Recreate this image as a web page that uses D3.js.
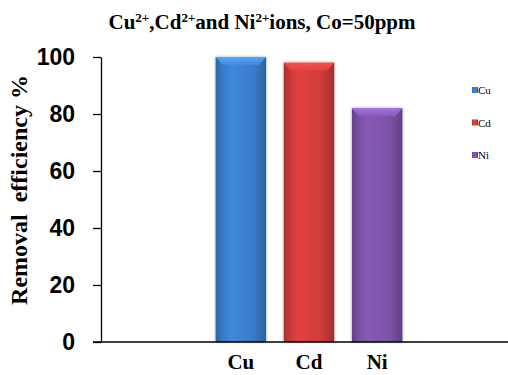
<!DOCTYPE html>
<html>
<head>
<meta charset="utf-8">
<script src="https://cdn.jsdelivr.net/npm/d3@7"></script>
<style>
  body { margin: 0; background: #fff; }
  svg { display: block; }
</style>
</head>
<body>
<div id="chart"></div>
<script>
'use strict';

const metals = ['Cu', 'Cd', 'Ni'];
const efficiency = [100, 98, 82];
const yTicks = [0, 20, 40, 60, 80, 100];
const barColors = ['#3a7cc9', '#cf3b3b', '#7b52a6'];

const width = 508, height = 375;
const margin = { top: 57, left: 101, bottom: 33, right: 0 };
const plotHeight = height - margin.top - margin.bottom;

const svg = d3.select('#chart').append('svg')
  .attr('width', width)
  .attr('height', height);

const defs = svg.append('defs');

// cylinder-ish shading for each bar colour
barColors.forEach(function (c, i) {
  const base = d3.color(c);
  const g = defs.append('linearGradient')
    .attr('id', 'bar' + i)
    .attr('x1', 0).attr('x2', 1).attr('y1', 0).attr('y2', 0);
  g.append('stop').attr('offset', '0%').attr('stop-color', base.darker(0.6));
  g.append('stop').attr('offset', '12%').attr('stop-color', base.darker(0.1));
  g.append('stop').attr('offset', '30%').attr('stop-color', base.brighter(0.25));
  g.append('stop').attr('offset', '75%').attr('stop-color', base);
  g.append('stop').attr('offset', '100%').attr('stop-color', base.darker(0.7));

  const cap = defs.append('linearGradient')
    .attr('id', 'cap' + i)
    .attr('x1', 0).attr('x2', 0).attr('y1', 0).attr('y2', 1);
  cap.append('stop').attr('offset', '0%').attr('stop-color', base.brighter(1.0));
  cap.append('stop').attr('offset', '100%').attr('stop-color', base.brighter(0.3));
});

const shadow = defs.append('filter').attr('id', 'shadow')
  .attr('x', '-20%').attr('y', '-10%').attr('width', '140%').attr('height', '120%');
shadow.append('feDropShadow')
  .attr('dx', 0).attr('dy', 0).attr('stdDeviation', 1.5)
  .attr('flood-color', '#000').attr('flood-opacity', 0.35);

const xScale = d3.scaleBand()
  .domain(metals)
  .range([110, width])
  .paddingInner(0.26)
  .paddingOuter(1.55);

const yScale = d3.scaleLinear()
  .domain([0, 100])
  .range([margin.top + plotHeight, margin.top]);

const yAxis = d3.axisLeft(yScale)
  .tickValues(yTicks)
  .tickSize(8)
  .tickSizeOuter(0);

const yG = svg.append('g')
  .attr('transform', `translate(${margin.left}, 0)`)
  .call(yAxis);

yG.select('.domain').attr('stroke', '#000').attr('stroke-width', 1.3);
yG.selectAll('.tick line').attr('stroke', '#000').attr('stroke-width', 1.3);
yG.selectAll('.tick text')
  .attr('x', -26)
  .style('font-family', '"Liberation Sans", Arial, sans-serif')
  .style('font-weight', 'bold')
  .style('font-size', '23px')
  .attr('fill', '#000');

// bars
const bars = svg.append('g').selectAll('.bar')
  .data(metals)
  .enter().append('g')
  .attr('class', 'bar')
  .attr('filter', 'url(#shadow)');

bars.append('rect')
  .attr('x', function (d) { return xScale(d); })
  .attr('y', function (d, i) { return yScale(efficiency[i]); })
  .attr('width', xScale.bandwidth())
  .attr('height', function (d, i) { return yScale(0) - yScale(efficiency[i]); })
  .attr('fill', function (d, i) { return 'url(#bar' + i + ')'; });

bars.append('path')
  .attr('d', function (d, i) {
    const x0 = xScale(d), w = xScale.bandwidth(), y0 = yScale(efficiency[i]);
    return `M${x0},${y0} L${x0 + w},${y0} L${x0 + w - 7},${y0 + 8} L${x0 + 7},${y0 + 8} Z`;
  })
  .attr('fill', function (d, i) { return 'url(#cap' + i + ')'; })
  .attr('opacity', 0.85);

// x axis line
svg.append('line')
  .attr('x1', margin.left - 8)
  .attr('x2', width)
  .attr('y1', yScale(0))
  .attr('y2', yScale(0))
  .attr('stroke', '#000')
  .attr('stroke-width', 1.3);

const xAxis = d3.axisBottom(xScale).tickSize(0).tickPadding(12);
const xG = svg.append('g')
  .attr('transform', `translate(0, ${yScale(0)})`)
  .call(xAxis);
xG.select('.domain').remove();
xG.selectAll('.tick text')
  .style('font-family', '"Liberation Serif", "Times New Roman", serif')
  .style('font-weight', 'bold')
  .style('font-size', '21px')
  .attr('fill', '#000');

// y title
svg.append('text')
  .attr('transform', `translate(27, 190) rotate(-90)`)
  .attr('text-anchor', 'middle')
  .attr('xml:space', 'preserve')
  .style('font-family', '"Liberation Serif", "Times New Roman", serif')
  .style('font-weight', 'bold')
  .style('font-size', '24px')
  .text('Removal  efficiency %');

// title with superscripts
const title = svg.append('text')
  .attr('x', 262)
  .attr('y', 29)
  .attr('text-anchor', 'middle')
  .style('font-family', '"Liberation Serif", "Times New Roman", serif')
  .style('font-weight', 'bold')
  .style('font-size', '21px');
const titleParts = [['Cu', false], ['2+', true], [',Cd', false], ['2+', true],
  ['and Ni', false], ['2+', true], ['ions, Co=50ppm', false]];
titleParts.forEach(function (p, i) {
  const t = title.append('tspan').text(p[0]);
  if (p[1]) {
    t.attr('dy', -7).style('font-size', '13px');
  } else if (i > 0) {
    t.attr('dy', 7);
  }
});

// legend
const legendY = d3.scalePoint()
  .domain(metals)
  .range([90, 155]);

const legend = svg.append('g').selectAll('.leg')
  .data(metals)
  .enter().append('g')
  .attr('class', 'leg')
  .attr('transform', function (d) { return `translate(472, ${legendY(d)})`; });

legend.append('rect')
  .attr('x', 0).attr('y', -3)
  .attr('width', 6).attr('height', 6)
  .attr('fill', function (d, i) { return 'url(#bar' + i + ')'; });

legend.append('text')
  .attr('x', 6)
  .attr('y', 4)
  .style('font-family', '"Liberation Serif", "Times New Roman", serif')
  .style('font-size', '11px')
  .text(function (d) { return d; });
</script>
</body>
</html>
